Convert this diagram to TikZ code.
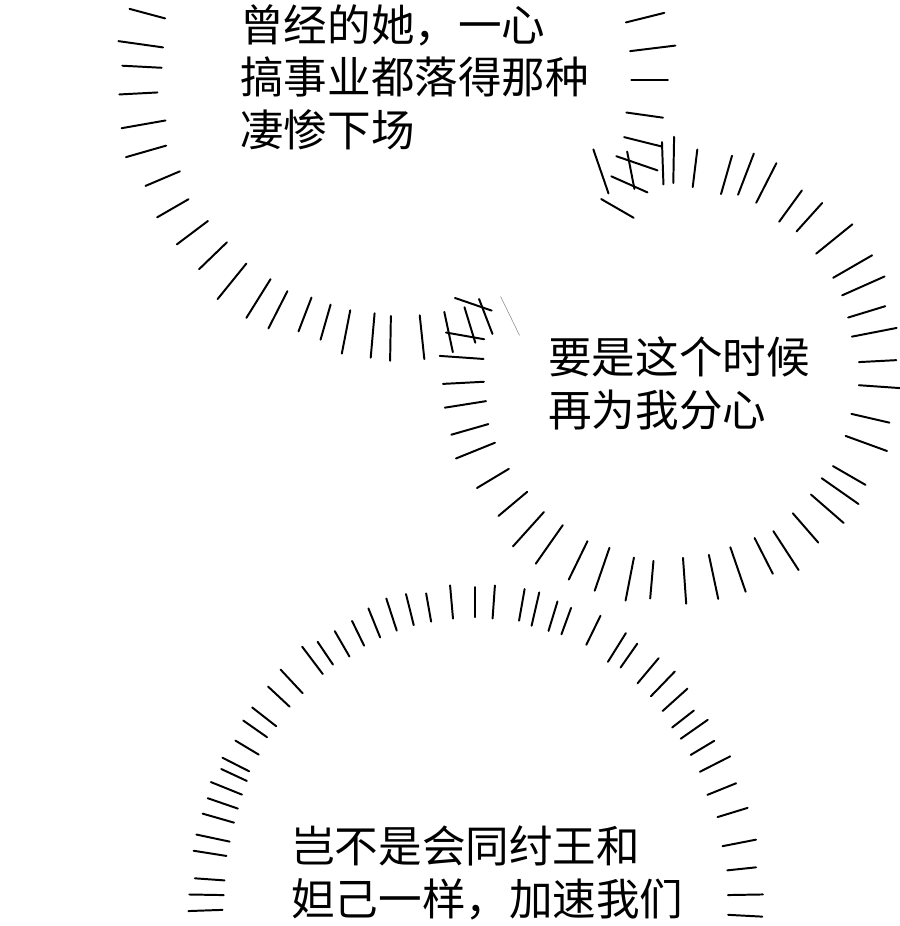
\documentclass[tikz,border=0pt]{standalone}
\usepackage{fontspec}
\newfontfamily\cjk{Noto Sans CJK SC}
\tikzset{
  ray/.style={line width=1.4pt, line cap=round},
  faintray/.style={line width=0.4pt, line cap=round, black!45},
  say/.style={font=\cjk\fontsize{31pt}{37.2pt}\selectfont, align=left, inner sep=0pt, anchor=base west}
}
\begin{document}
\begin{tikzpicture}[x=0.25mm, y=-0.25mm]
\useasboundingbox (0,0) rectangle (900,926);
\clip (0,0) rectangle (900,926);
\pgfmathsetseed{17}

% upper left burst
\foreach \a in {-14,-7,0,8,14,19,24,30,69,73,78,84,91,95,101,106,111,117,122,129,136,143,150,157,164,170,177,183,188,195,202} {
  \pgfmathsetmacro{\ri}{233+6*rnd}
  \pgfmathsetmacro{\ro}{\ri+36+10*rnd}
  \draw[ray] ({395+\ri*cos(\a)},{80+\ri*sin(\a)}) -- ({395+\ro*cos(\a)},{80+\ro*sin(\a)});
}
\draw[faintray] ({395+241*cos(64)},{80+241*sin(64)}) -- ({395+284*cos(64)},{80+284*sin(64)});

% middle burst
\foreach \a in {-109,-101,-92,-89,-83,-74,-69,-63,-54,-48,-39,-30,-24,-17,-11,-3,4,13,20,30,35,41,49,57,63,71,78,86,95,101,109,116,125,132,140,149,158,164,171,177,184,190,199} {
  \pgfmathsetmacro{\ri}{185+5*rnd}
  \pgfmathsetmacro{\ro}{\ri+37+10*rnd}
  \draw[ray] ({670+\ri*cos(\a)},{372+\ri*sin(\a)}) -- ({670+\ro*cos(\a)},{372+\ro*sin(\a)});
}

% lower burst
\foreach \a in {178,181,184,189,192,196,199,202,205,207,211,215,218,223,227,233,236,240,244,248,252,256,260,265,270,274,280,283,287,290,296,302,305,310,314,318,322,325,329,333,338,343,349,354,359,363} {
  \pgfmathsetmacro{\d}{-2+4*rnd}
  \pgfmathsetmacro{\l}{27+8*rnd}
  \draw[ray] ({475+(252+\d)*cos(\a)},{900+(282+\d)*sin(\a)}) -- ({475+(252+\d+\l)*cos(\a)},{900+(282+\d+\l)*sin(\a)});
}

\node[say] (past) at (240,146) {曾经的她，一心\\搞事业都落得那种\\凄惨下场};
\node[say] (now) at (548,426) {要是这个时候\\再为我分心};
\node[say] (fate) at (291,915) {岂不是会同纣王和\\妲己一样，加速我们};
\end{tikzpicture}
\end{document}
